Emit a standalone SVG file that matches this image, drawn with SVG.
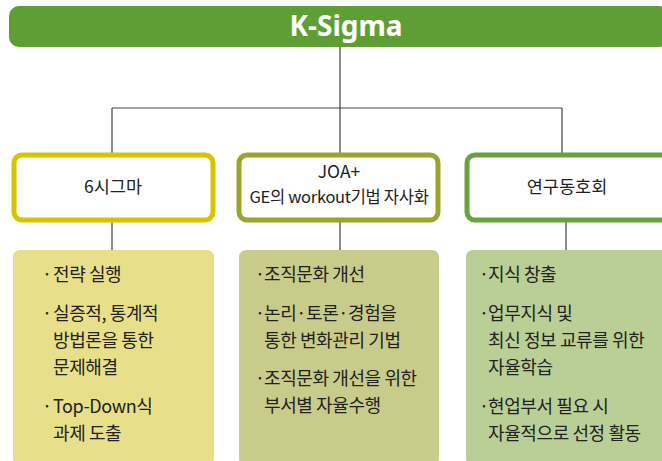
<svg xmlns="http://www.w3.org/2000/svg" width="662" height="461" viewBox="0 0 662 461">
  <style>
    .title { font-family: "Noto Sans", "Noto Sans CJK KR", sans-serif; font-weight: bold; font-size: 28px; fill: #ffffff; text-anchor: middle; }
    .head { font-family: "Noto Sans CJK KR", "Noto Sans", sans-serif; font-size: 17.5px; fill: #222222; text-anchor: middle; }
    .sub { font-size: 16.5px; letter-spacing: -0.3px; }
    .item { font-family: "Noto Sans CJK KR", "Noto Sans", sans-serif; font-size: 18px; fill: #222222; letter-spacing: -0.4px; }
    .box { fill: #ffffff; stroke-width: 5; }
    .conn { stroke: #444444; stroke-width: 1.2; fill: none; }
  </style>

  <!-- connectors -->
  <g id="connectors">
    <path class="conn" d="M340 47 V108 M112 108 H562 M112 108 V153 M340 108 V153 M562 108 V153"/>
    <path class="conn" d="M112 222 V250 M340 222 V250 M566 222 V250"/>
  </g>

  <!-- root -->
  <g id="root">
    <rect x="9" y="6" width="660" height="41" rx="10" fill="#5f9e34"/>
    <text class="title" x="346" y="36">K-Sigma</text>
  </g>

  <!-- branch: 6 sigma -->
  <g id="six-sigma">
    <rect class="box" x="14" y="155" width="199" height="65" rx="8" stroke="#d6c400"/>
    <text class="head" x="113" y="193">6시그마</text>
  </g>
  <g id="six-sigma-detail">
    <rect x="13" y="250" width="201" height="215" rx="7" fill="#e8df8a"/>
    <g class="item">
      <text x="42" y="281">·</text><text x="53" y="281">전략 실행</text>
      <text x="42" y="320">·</text><text x="53" y="320">실증적, 통계적</text>
      <text x="53" y="347">방법론을 통한</text>
      <text x="53" y="374">문제해결</text>
      <text x="42" y="413">·</text><text x="53" y="413">Top-Down식</text>
      <text x="53" y="440">과제 도출</text>
    </g>
  </g>

  <!-- branch: JOA+ -->
  <g id="joa">
    <rect class="box" x="239" y="155" width="199" height="65" rx="8" stroke="#9ba52a"/>
    <text class="head" x="339" y="178">JOA+</text>
    <text class="head sub" x="339" y="203">GE의 workout기법 자사화</text>
  </g>
  <g id="joa-detail">
    <rect x="239" y="250" width="200" height="215" rx="7" fill="#c9cb8b"/>
    <g class="item">
      <text x="255" y="281">·</text><text x="264" y="281">조직문화 개선</text>
      <text x="255" y="320">·</text><text x="264" y="320">논리·토론·경험을</text>
      <text x="264" y="347">통한 변화관리 기법</text>
      <text x="255" y="385">·</text><text x="264" y="385">조직문화 개선을 위한</text>
      <text x="264" y="412">부서별 자율수행</text>
    </g>
  </g>

  <!-- branch: study group -->
  <g id="study-group">
    <rect class="box" x="467" y="155" width="210" height="65" rx="8" stroke="#67a33a"/>
    <text class="head" x="567" y="193">연구동호회</text>
  </g>
  <g id="study-group-detail">
    <rect x="466" y="250" width="210" height="215" rx="7" fill="#b9cf95"/>
    <g class="item">
      <text x="479" y="281">·</text><text x="488" y="281">지식 창출</text>
      <text x="479" y="320">·</text><text x="488" y="320">업무지식 및</text>
      <text x="488" y="347">최신 정보 교류를 위한</text>
      <text x="488" y="374">자율학습</text>
      <text x="479" y="413">·</text><text x="488" y="413">현업부서 필요 시</text>
      <text x="488" y="440">자율적으로 선정 활동</text>
    </g>
  </g>
</svg>
